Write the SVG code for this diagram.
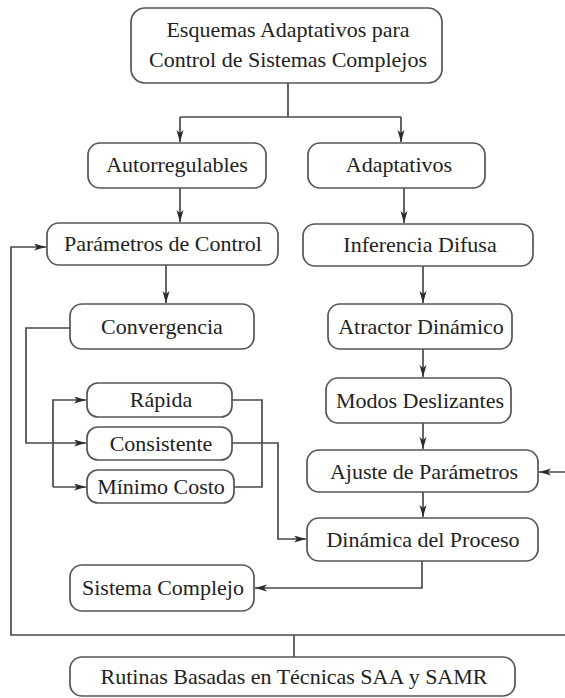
<svg xmlns="http://www.w3.org/2000/svg" width="565" height="698" viewBox="0 0 565 698">
<defs>
<style>
.box{fill:#ffffff;stroke:#555555;stroke-width:1.7}
.t{font-family:"Liberation Serif","Times New Roman",serif;font-size:22px;fill:#222222;text-anchor:middle}
.c{fill:none;stroke:#4a4a4a;stroke-width:1.7}
.a{marker-end:url(#arr)}
</style>
<marker id="arr" markerUnits="userSpaceOnUse" markerWidth="13" markerHeight="8" refX="12" refY="3.5" orient="auto">
<path d="M0,0 L12,3.5 L0,7 L3,3.5 z" fill="#2b2b2b"/>
</marker>
</defs>
<rect width="565" height="698" fill="#ffffff"/>

<g id="connectors">
<path class="c" d="M288,83 V117 M180,117 H401"/>
<path class="c a" d="M180,117 V142"/>
<path class="c a" d="M401,117 V142"/>
<path class="c a" d="M180,188 V222"/>
<path class="c a" d="M404,188 V223"/>
<path class="c a" d="M166,265 V303"/>
<path class="c a" d="M423,266 V303"/>
<path class="c a" d="M423,349 V377"/>
<path class="c a" d="M423,423 V449"/>
<path class="c a" d="M423,492 V517"/>
<path class="c a" d="M422,561 V588 H255"/>
<path class="c a" d="M70,328 H26 V443 H86"/>
<path class="c a" d="M53,487 V400 H86"/>
<path class="c a" d="M53,487 H86"/>
<path class="c" d="M232,400 H262 V487 H234"/>
<path class="c a" d="M232,443 H278 V539 H306"/>
<path class="c" d="M294,657 V635"/>
<path class="c a" d="M567,635 H11 V247 H46"/>
<path class="c a" d="M567,635 V472 H539"/>
</g>

<g id="n-esquemas">
<rect class="box" x="131" y="8" width="311" height="75" rx="14"/>
<text class="t" x="288" y="37">Esquemas Adaptativos para</text>
<text class="t" x="288" y="67">Control de Sistemas Complejos</text>
</g>
<g id="n-autorregulables">
<rect class="box" x="88" y="143" width="178" height="45" rx="12"/>
<text class="t" x="177" y="172">Autorregulables</text>
</g>
<g id="n-adaptativos">
<rect class="box" x="308" y="143" width="177" height="45" rx="12"/>
<text class="t" x="399" y="172">Adaptativos</text>
</g>
<g id="n-parametros">
<rect class="box" x="47" y="223" width="231" height="42" rx="12"/>
<text class="t" x="163" y="251">Parámetros de Control</text>
</g>
<g id="n-inferencia">
<rect class="box" x="303" y="224" width="230" height="42" rx="12"/>
<text class="t" x="420" y="252">Inferencia Difusa</text>
</g>
<g id="n-convergencia">
<rect class="box" x="70" y="304" width="184" height="45" rx="12"/>
<text class="t" x="162" y="334">Convergencia</text>
</g>
<g id="n-atractor">
<rect class="box" x="328" y="304" width="184" height="45" rx="12"/>
<text class="t" x="421" y="334">Atractor Dinámico</text>
</g>
<g id="n-modos">
<rect class="box" x="326" y="378" width="185" height="45" rx="12"/>
<text class="t" x="420" y="408">Modos Deslizantes</text>
</g>
<g id="n-rapida">
<rect class="box" x="87" y="383" width="145" height="34" rx="11"/>
<text class="t" x="161" y="407">Rápida</text>
</g>
<g id="n-consistente">
<rect class="box" x="87" y="427" width="145" height="33" rx="11"/>
<text class="t" x="161" y="451">Consistente</text>
</g>
<g id="n-minimo">
<rect class="box" x="87" y="470" width="147" height="33" rx="11"/>
<text class="t" x="161" y="494">Mínimo Costo</text>
</g>
<g id="n-ajuste">
<rect class="box" x="307" y="450" width="231" height="42" rx="12"/>
<text class="t" x="424" y="479">Ajuste de Parámetros</text>
</g>
<g id="n-dinamica">
<rect class="box" x="307" y="518" width="231" height="43" rx="12"/>
<text class="t" x="423" y="547">Dinámica del Proceso</text>
</g>
<g id="n-sistema">
<rect class="box" x="70" y="565" width="184" height="46" rx="12"/>
<text class="t" x="163" y="595">Sistema Complejo</text>
</g>
<g id="n-rutinas">
<rect class="box" x="70" y="657" width="445" height="39" rx="12"/>
<text class="t" x="294" y="684">Rutinas Basadas en Técnicas SAA y SAMR</text>
</g>
</svg>
